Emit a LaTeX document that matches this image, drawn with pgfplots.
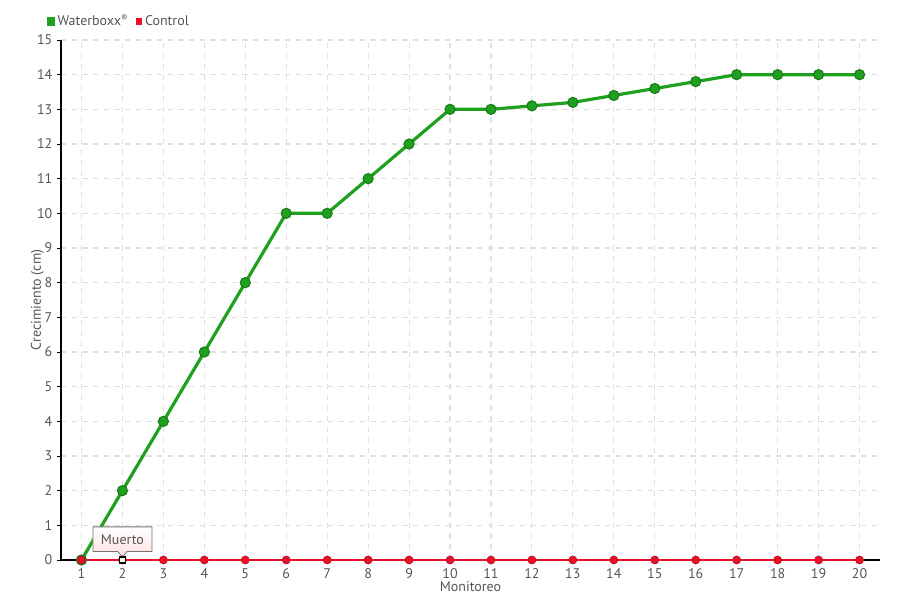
\documentclass[border=0pt]{standalone}
\usepackage{pgfplots}
\pgfplotsset{compat=1.18}
\usepackage{fontspec}
\setmainfont{PT Sans}
\usetikzlibrary{shapes.callouts,shadings}
\definecolor{wgreen}{HTML}{1FA01F}
\definecolor{wgreendark}{HTML}{1A7A1A}
\definecolor{cred}{HTML}{E8102A}
\definecolor{txtgray}{HTML}{555555}
\definecolor{gridgray}{HTML}{E0E0E0}
\begin{document}
\begin{tikzpicture}[x=1pt,y=1pt]
\useasboundingbox (-45.75,-30) rectangle (629.25,420);
\begin{axis}[
  at={(0,0)}, anchor=south west,
  scale only axis, width=614.25pt, height=390pt,
  xmin=0.5, xmax=20.5, ymin=0, ymax=15,
  xtick={1,...,20}, ytick={0,...,15},
  axis x line=bottom, axis y line=left,
  axis line style={black, line width=0.9pt, -},
  tick style={black, line width=0.7pt},
  tick align=outside, major tick length=3pt,
  grid=major,
  major grid style={gridgray, dashed, line width=0.8pt, dash pattern=on 4pt off 4pt},
  tick label style={font=\fontsize{10.5}{12}\selectfont, text=txtgray},
  /pgf/number format/assume math mode=true,
  xlabel={Monitoreo}, ylabel={Crecimiento (cm)},
  label style={font=\fontsize{10.5}{12}\selectfont, text=txtgray},
  xlabel style={yshift=5pt},
  ylabel style={yshift=-12pt},
  legend style={at={(-0.018,1.036)}, anchor=west, draw=none, fill=none,
    font=\fontsize{10.5}{12}\selectfont, text=txtgray, legend columns=2,
    /tikz/every even column/.append style={column sep=4pt},
    inner sep=0pt},
  legend image code/.code={\fill[#1] (0pt,-2pt) rectangle (4pt,2pt);},
  clip=false,
]
\addplot[color=wgreen, line width=2.4pt, mark=*, mark size=3.8pt,
  mark options={fill=wgreen, draw=wgreendark, line width=0.8pt}]
  coordinates {(1,0)(2,2)(3,4)(4,6)(5,8)(6,10)(7,10)(8,11)(9,12)(10,13)
  (11,13)(12,13.1)(13,13.2)(14,13.4)(15,13.6)(16,13.8)(17,14)(18,14)(19,14)(20,14)};
\addlegendentry{Waterboxx\raisebox{0.6ex}{\fontsize{7}{8}\selectfont\textregistered}}
\addplot[color=cred, line width=1.1pt, mark=*, mark size=3pt,
  mark options={fill=cred, draw=cred!80!black, line width=0.5pt}]
  coordinates {(1,0)(2,0)(3,0)(4,0)(5,0)(6,0)(7,0)(8,0)(9,0)(10,0)
  (11,0)(12,0)(13,0)(14,0)(15,0)(16,0)(17,0)(18,0)(19,0)(20,0)};
\addlegendentry{Control}
\addplot[only marks, mark=square*, mark size=2.2pt,
  mark options={fill=white, draw=black, line width=0.9pt}, forget plot]
  coordinates {(2,0)};
\node[rectangle callout, callout absolute pointer={(axis cs:2,0.09)},
  draw=gray!90!black, line width=0.6pt, top color=white, bottom color=red!12,
  font=\fontsize{10.5}{12}\selectfont, text=txtgray, inner xsep=6pt, inner ysep=4pt,
  minimum height=18.5pt]
  at (axis cs:2,0.6) {Muerto};
\end{axis}
\end{tikzpicture}
\end{document}
